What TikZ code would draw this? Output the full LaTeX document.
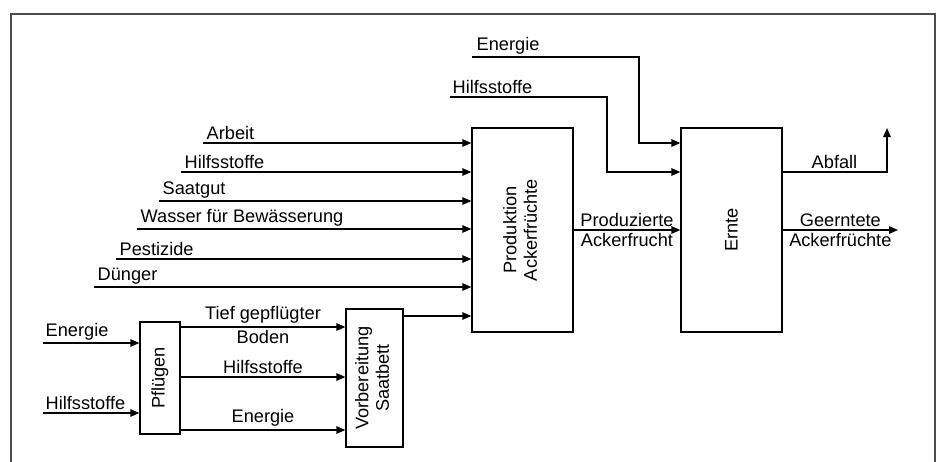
\documentclass[tikz,border=0pt]{standalone}
\usepackage{fontspec}
\setmainfont{Liberation Sans}
\usetikzlibrary{arrows.meta,positioning}

\tikzset{
  box/.style={draw, line width=1.3pt, inner sep=0pt},
  flow/.style={line width=1.3pt, -{Triangle[length=9pt,width=7.5pt]}},
  lbl/.style={inner xsep=1.5pt, inner ysep=3pt}
}

\begin{document}
\begin{tikzpicture}[x=1pt, y=-1pt, font=\fontsize{18.2}{20.5}\selectfont]
    \useasboundingbox (0,0) rectangle (939,461);
    \draw[black!70, line width=1.2pt] (11,470) |- (935,14) -- (935,470);

    % Kästen
    \node[box, minimum width=101pt, minimum height=204pt] (prod) at (522.5,230)
        {\rotatebox{90}{\begin{tabular}{@{}c@{}}Produktion\\Ackerfrüchte\end{tabular}}};
    \node[box, minimum width=101pt, minimum height=204pt] (ernte) at (731.5,230)
        {\rotatebox{90}{Ernte}};
    \node[box, minimum width=40pt, minimum height=112pt] (pflug) at (160,378)
        {\rotatebox{90}{Pflügen}};
    \node[box, minimum width=57pt, minimum height=138pt] (vorb) at (374.5,378)
        {\rotatebox{90}{\begin{tabular}{@{}c@{}}Vorbereitung\\Saatbett\end{tabular}}};

    % Eingänge Produktion
    \foreach \y/\x/\t in {143/203/Arbeit, 172/181/Hilfsstoffe, 201/159/Saatgut,
        229/137/Wasser für Bewässerung, 259/116/Pestizide, 287/94/Dünger} {
        \coordinate (in\y) at (\x,\y);
        \draw[flow] (in\y) -- (in\y -| prod.west);
        \node[lbl, above right] at ([xshift=2pt]in\y) {\t};
    }
    \draw[flow] (vorb.east |- 0,316) -- (prod.west |- 0,316);

    % Eingänge Ernte
    \coordinate (energie) at (472,57);
    \coordinate (hilfs) at (450,97);
    \draw[flow] (energie) -| (639,143) -- (ernte.west |- 0,143);
    \node[lbl, above right] at ([xshift=3pt]energie) {Energie};
    \draw[flow] (hilfs) -| (607,172) -- (ernte.west |- 0,172);
    \node[lbl, above right] at ([xshift=1pt]hilfs) {Hilfsstoffe};

    \draw[flow] (prod.east) -- (ernte.west)
        node[midway, above, lbl] {Produzierte}
        node[midway, below, lbl] {Ackerfrucht};

    % Ausgänge Ernte
    \coordinate (abfall) at (887,128);
    \draw[flow] (ernte.east |- 0,172) -| (abfall);
    \node[lbl, above] at (834.5,172) {Abfall};
    \coordinate (geerntet) at (898,230);
    \draw[flow] (ernte.east) -- (geerntet)
        node[midway, above, lbl] {Geerntete}
        node[midway, below, lbl] {Ackerfrüchte};

    % Pflügen
    \coordinate (penergie) at (43,343);
    \coordinate (philfs) at (43,413);
    \draw[flow] (penergie) -- (penergie -| pflug.west);
    \node[lbl, above right] at ([xshift=1pt]penergie) {Energie};
    \draw[flow] (philfs) -- (philfs -| pflug.west);
    \node[lbl, above right] at ([xshift=1pt]philfs) {Hilfsstoffe};

    \draw[flow] (pflug.east |- 0,327) -- (vorb.west |- 0,327)
        node[midway, above, lbl] {Tief gepflügter}
        node[midway, below, lbl] {Boden};
    \draw[flow] (pflug.east |- 0,377) -- (vorb.west |- 0,377)
        node[midway, above, lbl] {Hilfsstoffe};
    \draw[flow] (pflug.east |- 0,430) -- (vorb.west |- 0,430)
        node[midway, above, lbl] {Energie};
\end{tikzpicture}
\end{document}
